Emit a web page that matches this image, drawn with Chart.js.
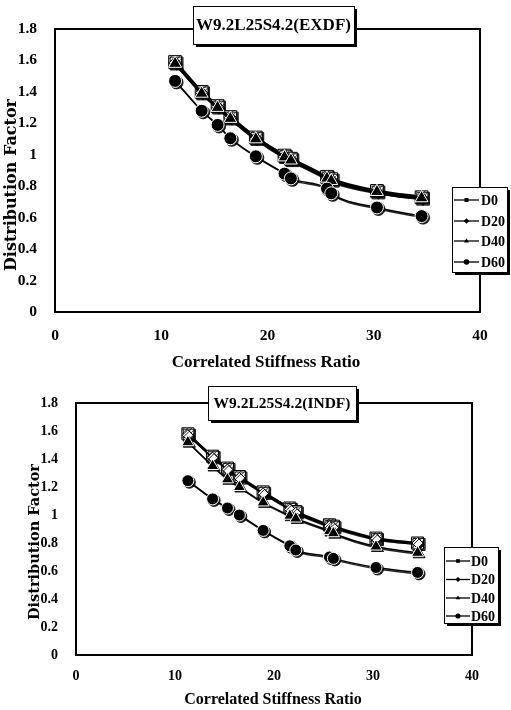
<!DOCTYPE html>
<html>
<head>
<meta charset="utf-8">
<script src="https://cdn.jsdelivr.net/npm/chart.js@4.4.1/dist/chart.umd.min.js"></script>
<style>
  html, body { margin: 0; padding: 0; background: #fff; }
  #wrap { position: relative; width: 511px; height: 710px; }
  canvas { position: absolute; left: 0; }
</style>
</head>
<body>
<div id="wrap">
  <canvas id="exdf" width="511" height="380" style="top:0"></canvas>
  <canvas id="indf" width="511" height="330" style="top:380px"></canvas>
</div>
<script>
// correlated stiffness ratio (same for every series)
var ratio = [11.3, 13.8, 15.3, 16.5, 18.9, 21.6, 22.2, 25.6, 26.0, 30.3, 34.5];
var seriesNames = ['D0', 'D20', 'D40', 'D60'];
var xTicks = [0, 10, 20, 30, 40];
var yTicks = [0, 0.2, 0.4, 0.6, 0.8, 1, 1.2, 1.4, 1.6, 1.8];

// W9.2L25S4.2(EXDF)
var exD0  = [1.59, 1.40, 1.31, 1.24, 1.11, 0.995, 0.975, 0.86, 0.845, 0.77, 0.73];
var exD20 = [1.585, 1.395, 1.305, 1.235, 1.105, 0.99, 0.97, 0.855, 0.84, 0.765, 0.725];
var exD40 = [1.58, 1.39, 1.30, 1.23, 1.10, 0.985, 0.965, 0.85, 0.835, 0.765, 0.725];
var exD60 = [1.47, 1.28, 1.19, 1.105, 0.99, 0.88, 0.85, 0.785, 0.755, 0.665, 0.61];

// W9.2L25S4.2(INDF)
var inD0  = [1.58, 1.42, 1.335, 1.275, 1.165, 1.05, 1.025, 0.93, 0.92, 0.835, 0.80];
var inD20 = [1.57, 1.41, 1.325, 1.265, 1.155, 1.04, 1.015, 0.92, 0.91, 0.83, 0.80];
var inD40 = [1.52, 1.35, 1.255, 1.20, 1.09, 0.995, 0.975, 0.885, 0.87, 0.775, 0.73];
var inD60 = [1.245, 1.115, 1.05, 1.0, 0.89, 0.78, 0.75, 0.70, 0.69, 0.625, 0.59];

var SERIF = '"Liberation Serif", "DejaVu Serif", serif';

function hatch() {
  var c = document.createElement('canvas');
  c.width = 4; c.height = 4;
  var g = c.getContext('2d');
  g.fillStyle = '#fff'; g.fillRect(0, 0, 4, 4);
  g.strokeStyle = '#666'; g.lineWidth = 1.2;
  g.beginPath(); g.moveTo(-1, 5); g.lineTo(5, -1); g.stroke();
  return g.createPattern(c, 'repeat');
}

function pts(ys) {
  return ratio.map(function (x, i) { return {x: x, y: ys[i]}; });
}

// plot frame
var frame = {
  id: 'frame',
  beforeDatasetsDraw: function (chart) {
    var a = chart.chartArea, ctx = chart.ctx;
    ctx.save();
    ctx.strokeStyle = '#000';
    ctx.lineWidth = 2;
    ctx.strokeRect(a.left, a.top, a.right - a.left, a.bottom - a.top);
    ctx.restore();
  }
};

// excel-like drop shadow under marks
var shadow = {
  id: 'shadow',
  beforeDatasetsDraw: function (chart) {
    var ctx = chart.ctx;
    ctx.save();
    ctx.shadowColor = 'rgba(0,0,0,0.85)';
    ctx.shadowOffsetX = 1.5;
    ctx.shadowOffsetY = 1.5;
    ctx.shadowBlur = 0;
  },
  afterDatasetsDraw: function (chart) { chart.ctx.restore(); }
};

// title box, legend box, axis titles
var deco = {
  id: 'deco',
  afterDraw: function (chart, args, o) {
    var ctx = chart.ctx;
    ctx.save();
    ctx.fillStyle = '#000';
    ctx.textAlign = 'center';
    ctx.textBaseline = 'middle';

    // axis titles
    ctx.font = o.xTitle.font;
    ctx.fillText(o.xTitle.text, o.xTitle.x, o.xTitle.y);
    ctx.save();
    ctx.translate(o.yTitle.x, o.yTitle.y);
    ctx.rotate(-Math.PI / 2);
    ctx.font = o.yTitle.font;
    ctx.fillText(o.yTitle.text, 0, 0);
    ctx.restore();

    // title box
    var t = o.title;
    ctx.fillStyle = '#000';
    ctx.fillRect(t.x + 3, t.y + 3, t.w, t.h);
    ctx.fillStyle = '#fff';
    ctx.fillRect(t.x, t.y, t.w, t.h);
    ctx.strokeStyle = '#000';
    ctx.lineWidth = 1;
    ctx.strokeRect(t.x + 0.5, t.y + 0.5, t.w, t.h);
    ctx.fillStyle = '#000';
    ctx.font = t.font;
    ctx.fillText(t.text, t.x + t.w / 2, t.y + t.h / 2 + 1);

    // legend
    var L = o.legend;
    ctx.fillStyle = '#000';
    ctx.fillRect(L.x + 3, L.y + 3, L.w, L.h);
    ctx.fillStyle = '#fff';
    ctx.fillRect(L.x, L.y, L.w, L.h);
    ctx.strokeRect(L.x + 0.5, L.y + 0.5, L.w, L.h);
    ctx.font = L.font;
    ctx.textAlign = 'left';
    chart.data.datasets.forEach(function (d, i) {
      var y = L.rows[i];
      ctx.strokeStyle = '#000';
      ctx.lineWidth = 1.3;
      ctx.beginPath();
      ctx.moveTo(L.lineX0, y); ctx.lineTo(L.lineX1, y);
      ctx.stroke();
      ctx.fillStyle = '#000';
      Chart.helpers.drawPoint(ctx, {pointStyle: d.pointStyle, radius: L.r, borderWidth: 0, rotation: 0},
        (L.lineX0 + L.lineX1) / 2, y);
      ctx.fillText(d.label, L.textX, y + 1);
    });
    ctx.restore();
  }
};

function makeChart(id, ys, g) {
  var fill = hatch();
  var styles = [
    {pointStyle: 'rect', pointRadius: g.rRect, pointBackgroundColor: fill, pointBorderColor: '#000', pointBorderWidth: 1, borderWidth: g.lw[0], order: 3},
    {pointStyle: 'rectRot', pointRadius: g.rDia, pointBackgroundColor: '#fff', pointBorderColor: '#000', pointBorderWidth: 1, borderWidth: g.lw[1], order: 2},
    {pointStyle: 'triangle', pointRadius: g.rTri, pointBackgroundColor: '#000', pointBorderColor: '#fff', pointBorderWidth: 1, borderWidth: g.lw[2], order: 1},
    {pointStyle: 'circle', pointRadius: g.rCirc, pointBackgroundColor: '#000', pointBorderColor: '#fff', pointBorderWidth: 1, borderWidth: g.lw[3], order: 0}
  ];
  var datasets = ys.map(function (arr, i) {
    return Object.assign({
      label: seriesNames[i],
      data: pts(arr),
      borderColor: '#000',
      backgroundColor: '#000',
      cubicInterpolationMode: 'monotone',
      fill: false
    }, styles[i]);
  });

  var tickFont = {family: SERIF, size: g.tickSize, weight: 'bold'};
  var plain = function (v) { return String(v); };
  return new Chart(document.getElementById(id), {
    type: 'line',
    data: {datasets: datasets},
    options: {
      responsive: false,
      animation: false,
      events: [],
      layout: {padding: g.pad},
      scales: {
        x: {
          type: 'linear', min: 0, max: 40,
          afterBuildTicks: function (s) { s.ticks = xTicks.map(function (v) { return {value: v}; }); },
          ticks: {font: tickFont, color: '#000', padding: g.xPad, maxRotation: 0, callback: plain},
          grid: {display: false},
          border: {display: false},
          afterFit: function (s) { s.height = g.xH; }
        },
        y: {
          type: 'linear', min: 0, max: 1.8,
          afterBuildTicks: function (s) { s.ticks = yTicks.map(function (v) { return {value: v}; }); },
          ticks: {font: tickFont, color: '#000', padding: g.yPad, callback: plain},
          grid: {display: false},
          border: {display: false},
          afterFit: function (s) { s.width = g.yW; }
        }
      },
      plugins: {
        legend: {display: false},
        tooltip: {enabled: false},
        deco: g.deco
      }
    },
    plugins: [frame, shadow, deco]
  });
}

makeChart('exdf', [exD0, exD20, exD40, exD60], {
  pad: {top: 29, right: 31, left: 0, bottom: 0},
  yW: 55, xH: 68, xPad: 7, yPad: 10, tickSize: 15.5,
  rRect: 9, rDia: 6, rTri: 7.5, rCirc: 6.5,
  lw: [3, 2, 2.5, 1.5],
  deco: {
    title: {text: 'W9.2L25S4.2(EXDF)', x: 193, y: 6, w: 161, h: 38, font: 'bold 17px ' + SERIF},
    legend: {x: 452, y: 187, w: 55, h: 85, rows: [200, 221, 241, 262], lineX0: 454, lineX1: 479, textX: 481, r: 2.8,
      font: 'bold 14px ' + SERIF},
    xTitle: {text: 'Correlated Stiffness Ratio', x: 266, y: 363, font: 'bold 17px ' + SERIF},
    yTitle: {text: 'Distribution Factor', x: 12, y: 185, font: 'bold 16px "DejaVu Serif", serif'}
  }
});

makeChart('indf', [inD0, inD20, inD40, inD60], {
  pad: {top: 23, right: 39, left: 0, bottom: 0},
  yW: 76, xH: 55, xPad: 5, yPad: 10, tickSize: 14,
  rRect: 8.5, rDia: 5.5, rTri: 7, rCirc: 6,
  lw: [2, 1.5, 1.5, 1.5],
  deco: {
    title: {text: 'W9.2L25S4.2(INDF)', x: 208, y: 6, w: 148, h: 34, font: 'bold 15.5px ' + SERIF},
    legend: {x: 444, y: 167, w: 54, h: 76, rows: [181, 199.5, 218, 236], lineX0: 446, lineX1: 470, textX: 471, r: 2.6,
      font: 'bold 14px ' + SERIF},
    xTitle: {text: 'Correlated Stiffness Ratio', x: 273, y: 320, font: 'bold 16px ' + SERIF},
    yTitle: {text: 'Distribution Factor', x: 35, y: 162, font: 'bold 14.5px "DejaVu Serif", serif'}
  }
});
</script>
</body>
</html>
